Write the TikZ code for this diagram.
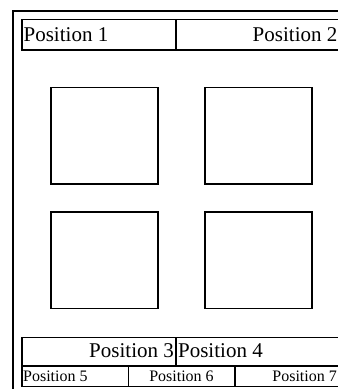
\documentclass[tikz,border=0pt]{standalone}
\usepackage{fontspec}
\setmainfont{Liberation Serif}

\begin{document}
\begin{tikzpicture}[x=1pt,y=-1pt,line width=1.3pt]
      \useasboundingbox (0,0) rectangle (338,389);
      \clip (0,0) rectangle (338,389);
%      \draw[style=help lines] (0,0) grid[step=20] (338,389);
      \draw[line width=2pt] (13,11) rectangle (350,400);
      % header row
      \draw (22,19.5) rectangle (350,50);
      \draw (176,19.5) -- (176,50);
      \draw (23,41) node[anchor=base west,inner sep=0pt] (p1) {\fontsize{21}{24}\selectfont Position 1};
      \draw (338,41) node[anchor=base east,inner sep=0pt] (p2) {\fontsize{21}{24}\selectfont Position 2};
      % the four squares
      \foreach \position in {(51,87.5),(205,87.5),(51,212),(205,212)}
        \draw \position rectangle +(107,96.5);
      % footer rows
      \draw (22,337.5) rectangle (350,386.5);
      \draw (22,366) -- (350,366);
      \draw (176,337.5) -- (176,366);
      \draw (128.5,366) -- (128.5,386.5);
      \draw (235,366) -- (235,386.5);
      \draw (174.5,357) node[anchor=base east,inner sep=0pt] (p3) {\fontsize{21}{24}\selectfont Position 3};
      \draw (177.5,357) node[anchor=base west,inner sep=0pt] (p4) {\fontsize{21}{24}\selectfont Position 4};
      \draw (22.5,381) node[anchor=base west,inner sep=0pt] (p5) {\fontsize{16}{18}\selectfont Position 5};
      \draw (181.5,381) node[anchor=base,inner sep=0pt] (p6) {\fontsize{16}{18}\selectfont Position 6};
      \draw (337.5,381) node[anchor=base east,inner sep=0pt] (p7) {\fontsize{16}{18}\selectfont Position 7};
    \end{tikzpicture}
\end{document}
